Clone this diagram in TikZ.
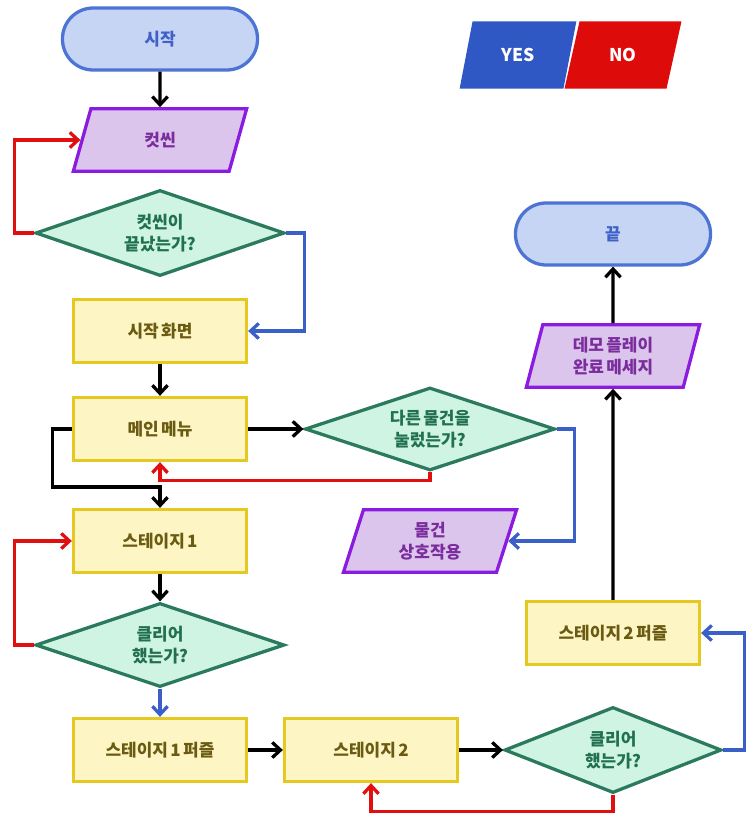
\documentclass[tikz,border=0pt]{standalone}
\usepackage{fontspec}
\setmainfont{Noto Sans CJK KR}[WordSpace=0.6]
\usetikzlibrary{shapes.geometric,arrows.meta}
\definecolor{termfill}{HTML}{C7D5F5}
\definecolor{termline}{HTML}{4D74D4}
\definecolor{termtext}{HTML}{4062C8}
\definecolor{iofill}{HTML}{DCC5EC}
\definecolor{ioline}{HTML}{8C1BE0}
\definecolor{iotext}{HTML}{7B2D9E}
\definecolor{decfill}{HTML}{CFF4E4}
\definecolor{decline}{HTML}{2C7A5E}
\definecolor{dectext}{HTML}{21704F}
\definecolor{procfill}{HTML}{FDF6C4}
\definecolor{procline}{HTML}{E5C820}
\definecolor{proctext}{HTML}{6B5B12}
\definecolor{yescol}{HTML}{2F58C4}
\definecolor{nocol}{HTML}{DE0B0B}
\definecolor{yesline}{HTML}{3A5FC8}
\definecolor{noline}{HTML}{E01010}

\begin{document}
\begin{tikzpicture}[x=0.03cm,y=-0.03cm,
	font=\bfseries\fontsize{14.5}{18.5}\selectfont,
	box/.style={draw, line width=2.8pt, align=center, inner sep=0pt},
	terminal/.style={box, rounded corners=0.92cm, draw=termline, fill=termfill, text=termtext, minimum width=5.85cm, minimum height=1.86cm},
	proc/.style={box, rectangle, draw=procline, fill=procfill, text=proctext, minimum width=5.19cm, minimum height=1.89cm},
	io/.style={box, trapezium, trapezium left angle=76, trapezium right angle=104, trapezium stretches=true, draw=ioline, fill=iofill, text=iotext, minimum width=5.2cm, minimum height=1.87cm},
	decision/.style={box, diamond, aspect=2.9, draw=decline, fill=decfill, text=dectext},
	legend/.style={trapezium, trapezium left angle=71, trapezium right angle=109, trapezium stretches=true, text=white, inner sep=0pt, minimum width=3.51cm, minimum height=2.01cm, font=\bfseries\fontsize{15}{17}\selectfont},
	flow/.style={line width=2.8pt, -{Straight Barb[length=7pt,width=13pt]}},
	yes/.style={flow, draw=yesline},
	no/.style={flow, draw=noline}]
	\useasboundingbox (0,0) rectangle (754,817);
	\node[legend, fill=yescol] (yes) at (518,55) {YES};
	\node[legend, fill=nocol] (no) at (623,55) {NO};

	\node[terminal] (start) at (160,39) {시작};
	\node[io] (cut) at (160,140) {컷씬};
	\node[decision, minimum width=7.47cm, minimum height=2.58cm] (endq) at (160,233) {컷씬이\\끝났는가?};
	\node[proc] (title) at (160,331) {시작 화면};
	\node[proc] (menu) at (160,429) {메인 메뉴};
	\node[decision, minimum width=7.5cm, minimum height=2.49cm] (itemq) at (430,429) {다른 물건을\\눌렀는가?};
	\node[io] (item) at (430,541) {물건\\상호작용};
	\node[proc] (stage1) at (160,541) {스테이지 1};
	\node[decision, minimum width=7.47cm, minimum height=2.52cm] (clear1) at (160,645) {클리어\\했는가?};
	\node[proc] (puzzle1) at (160,750) {스테이지 1 퍼즐};
	\node[proc] (stage2) at (371,750) {스테이지 2};
	\node[decision, minimum width=6.51cm, minimum height=2.58cm] (clear2) at (613,750) {클리어\\했는가?};
	\node[proc] (puzzle2) at (613,633) {스테이지 2 퍼즐};
	\node[io] (demo) at (613,356) {데모 플레이\\완료 메세지};
	\node[terminal] (fin) at (613,234) {끝};

	\draw[flow] (start) -- (cut);
	\draw[no] (endq.west) -- ++(-19,0) |- (cut.west);
	\draw[yes] (endq.east) -- ++(18,0) |- (title.east);
	\draw[flow] (title) -- (menu);
	\draw[flow] (menu) -- (itemq);
	\draw[no] (itemq.south) -- ++(0,8) -| (menu.south);
	\draw[yes] (itemq.east) -- ++(18,0) |- (item.east);
	\draw[flow] (menu.west) -- ++(-19,0) -- ++(0,58) -| (stage1.north);
	\draw[flow] (stage1) -- (clear1);
	\draw[no] (clear1.west) -- ++(-19,0) |- (stage1.west);
	\draw[yes] (clear1) -- (puzzle1);
	\draw[flow] (puzzle1) -- (stage2);
	\draw[flow] (stage2) -- (clear2);
	\draw[no] (clear2.south) -- ++(0,17) -| (stage2.south);
	\draw[yes] (clear2.east) -- ++(21,0) |- (puzzle2.east);
	\draw[flow] (puzzle2) -- (demo);
	\draw[flow] (demo) -- (fin);
\end{tikzpicture}
\end{document}
